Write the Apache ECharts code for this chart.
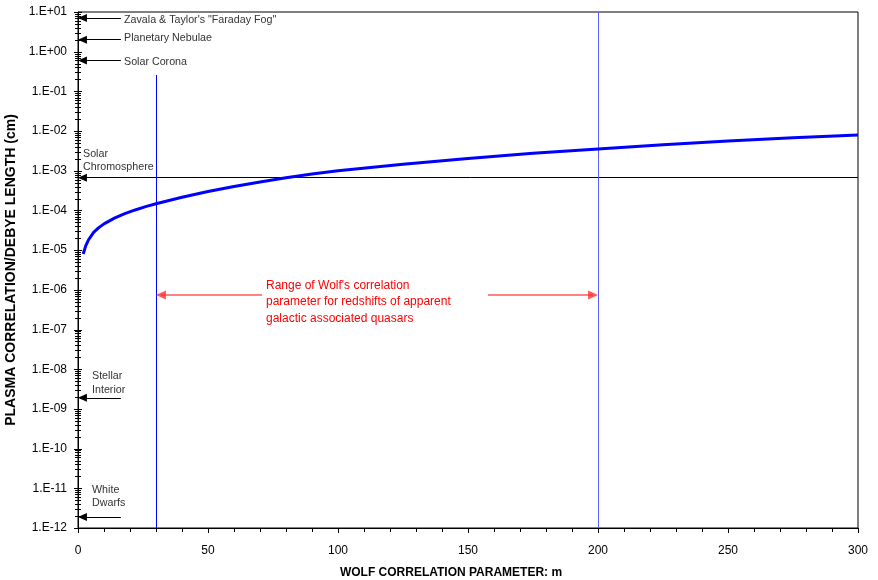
<!DOCTYPE html>
<html>
<head>
<meta charset="utf-8">
<script src="https://cdn.jsdelivr.net/npm/echarts@6/dist/echarts.min.js"></script>
<style>
  html, body { margin: 0; padding: 0; background: #fff; }
  #chart { width: 878px; height: 580px; }
</style>
</head>
<body>
<div id="chart"></div>
<script>
// Wolf correlation parameter (x) and plasma correlation / Debye length in cm (y)
const wolfM = [2, 3, 4, 6, 8, 10, 14, 18, 22, 26, 30, 40, 50, 60, 70, 80, 90, 100, 125, 150, 175, 200, 225, 250, 275, 300];
const debyeLength = [8.0e-6, 1.3e-5, 1.8e-5, 2.8e-5, 3.7e-5, 4.6e-5, 6.4e-5, 8.3e-5, 1.03e-4, 1.25e-4, 1.47e-4,
  2.15e-4, 3.0e-4, 4.0e-4, 5.2e-4, 6.7e-4, 8.3e-4, 1.0e-3, 1.45e-3, 2.05e-3, 2.75e-3, 3.55e-3, 4.5e-3, 5.6e-3, 6.8e-3, 8.0e-3];

// reference plasmas marked on the y axis
const plasmaNames = ['Zavala & Taylor\'s "Faraday Fog"', 'Planetary Nebulae', 'Solar Corona', 'Solar\nChromosphere', 'Stellar\nInterior', 'White\nDwarfs'];
const plasmaLengths = [7.1, 2.0, 0.6, 6.7e-4, 1.9e-9, 1.9e-12];
const arrowStartM = 1.7;
const arrowEndM = [16.5, 16.5, 16.5, 300, 16.5, 16.5];

// Wolf range limits
const rangeM = [30, 200];
const rangeTop = [0.26, 10];
const rangeArrowY = 7.4e-7;
const rangeArrowTipM = [31.9, 198.1];
const rangeGapM = [70.8, 157.7];

const yMin = 1e-12, yMax = 10;
const yExponents = [1, 0, -1, -2, -3, -4, -5, -6, -7, -8, -9, -10, -11, -12];

// y ticks cross the axis: decades plus log minor ticks 2..9
const yTicks = [];
yExponents.forEach(function (e) {
  yTicks.push([0, Math.pow(10, e), 4]);
  if (e < 1) for (let k = 2; k <= 9; k++) yTicks.push([0, k * Math.pow(10, e), 3]);
});

function sciLabel(v) {
  const e = Math.round(Math.log10(v));
  const s = Math.abs(e) < 10 ? '0' + Math.abs(e) : '' + Math.abs(e);
  return '1.E' + (e >= 0 ? '+' : '-') + s;
}

const chart = echarts.init(document.getElementById('chart'));

const arrowLines = plasmaLengths.map((v, i) => [
  { coord: [arrowStartM, v], symbol: 'triangle', symbolSize: [8, 9],
    lineStyle: { color: '#000', width: 1, type: 'solid' } },
  { coord: [arrowEndM[i], v], symbol: 'none' }
]);

const rangeLines = rangeM.map((m, i) => [
  { coord: [m, yMin], symbol: 'none',
    lineStyle: { color: i === 0 ? '#0000ff' : '#5c5cff', width: 1, type: 'solid' } },
  { coord: [m, rangeTop[i]], symbol: 'none' }
]);

const redArrows = rangeM.map((m, i) => [
  { coord: [rangeGapM[i], rangeArrowY], symbol: 'none',
    lineStyle: { color: '#ff3030', width: 1.5, type: 'solid', opacity: 0.8 } },
  { coord: [rangeArrowTipM[i], rangeArrowY], symbol: 'triangle', symbolSize: [9, 10] }
]);

const labelFont = { fontFamily: 'Liberation Sans, Arial, sans-serif', fontSize: 10.7, fill: '#333' };
const labelTops = [13, 31, 55, 147, 369.5, 483];
const labelLefts = [124, 124, 124, 83, 92, 92];

chart.setOption({
  animation: false,
  backgroundColor: '#fff',
  textStyle: { fontFamily: 'Liberation Sans, Arial, sans-serif' },
  grid: { left: 78, right: 20, top: 12, bottom: 52, containLabel: false, outerBoundsMode: 'none',
    show: true, borderColor: '#000', borderWidth: 1, backgroundColor: 'transparent' },
  xAxis: {
    type: 'value', min: 0, max: 300, interval: 50,
    name: 'WOLF CORRELATION PARAMETER: m', nameLocation: 'middle', nameGap: 39,
    nameTextStyle: { fontSize: 12, fontWeight: 'bold', color: '#000', padding: [0, 34, 0, 0] },
    axisLine: { lineStyle: { color: '#000', width: 1 } },
    axisTick: { length: 5, lineStyle: { color: '#000' } },
    minorTick: { show: true, splitNumber: 5, length: 4, lineStyle: { color: '#000' } },
    axisLabel: { fontSize: 12, color: '#000', margin: 17 },
    splitLine: { show: false }
  },
  yAxis: {
    type: 'log', logBase: 10, min: yMin, max: yMax, interval: 1, splitNumber: 13,
    name: 'PLASMA CORRELATION/DEBYE LENGTH (cm)', nameLocation: 'middle', nameGap: 54,
    nameTextStyle: { fontSize: 14, fontWeight: 'bold', color: '#000' },
    axisLine: { show: true, lineStyle: { color: '#000', width: 1 } },
    axisTick: { show: false },
    axisLabel: { fontSize: 12, color: '#000', margin: 11, formatter: sciLabel, hideOverlap: false, showMinLabel: true, showMaxLabel: true },
    splitLine: { show: false }
  },
  series: [
    {
      name: 'Debye length', type: 'line', showSymbol: false, smooth: false,
      data: wolfM.map((m, i) => [m, debyeLength[i]]),
      lineStyle: { color: '#0000ff', width: 3 },
      z: 5,
      markLine: {
        silent: true, animation: false, precision: 20,
        label: { show: false },
        emphasis: { disabled: true },
        data: arrowLines.concat(rangeLines, redArrows)
      }
    },
    {
      type: 'custom', silent: true, clip: false, z: 6,
      data: yTicks,
      renderItem: function (params, api) {
        const p = api.coord([0, api.value(1)]);
        const h = api.value(2);
        const y = Math.round(p[1]) + 0.5;
        return { type: 'line', shape: { x1: p[0] - h, y1: y, x2: p[0] + h, y2: y },
          style: { stroke: '#000', lineWidth: 1 } };
      }
    }
  ],
  graphic: plasmaNames.map((t, i) => ({
    type: 'text', left: labelLefts[i], top: labelTops[i],
    style: Object.assign({ text: t, lineHeight: 13.5 }, labelFont)
  })).concat([
    { type: 'text', left: 266, top: 277, style: {
      text: 'Range of Wolf\'s correlation\nparameter for redshifts of apparent\ngalactic associated quasars',
      fontFamily: 'Liberation Sans, Arial, sans-serif', fontSize: 12, lineHeight: 16.5, fill: '#ff0000' } }
  ])
});
</script>
</body>
</html>
